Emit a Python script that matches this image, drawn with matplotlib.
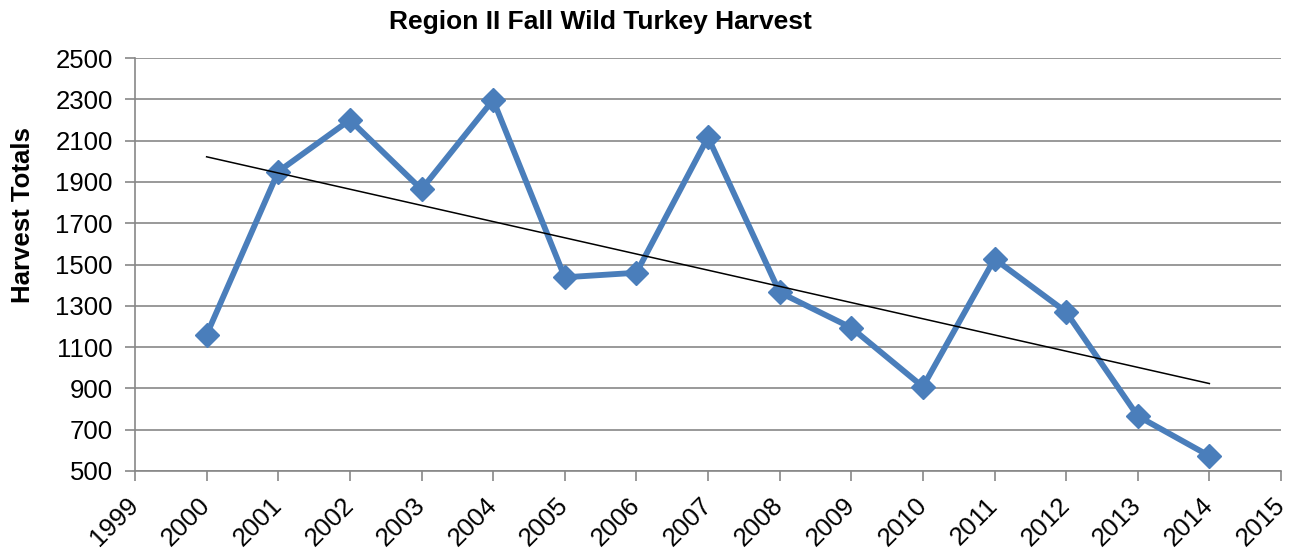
import numpy as np
import matplotlib
matplotlib.use('Agg')
import matplotlib.pyplot as plt

plt.rcParams['font.family'] = ['Liberation Sans', 'DejaVu Sans']

# Harvest totals
years = [2000, 2001, 2002, 2003, 2004, 2005, 2006, 2007,
         2008, 2009, 2010, 2011, 2012, 2013, 2014]
harvest = [1160, 1950, 2200, 1864, 2297, 1438, 1460, 2116,
           1365, 1194, 908, 1527, 1270, 766, 573]
y_ticks = list(range(500, 2501, 200))
x_ticks = list(range(1999, 2016))

grid_col = '#878787'
line_col = '#4a7ebb'

fig = plt.figure(figsize=(12.98, 5.5), dpi=100)
ax = fig.add_axes([135 / 1298, 1 - 471 / 550, (1281 - 135) / 1298, (471 - 58) / 550])

ax.plot(years, harvest, color=line_col, lw=4.2, marker='D', markersize=12,
        markeredgecolor=line_col, zorder=3)

# linear trend line over the data range
coef = np.polyfit(years, harvest, 1)
ax.plot([years[0], years[-1]], np.polyval(coef, [years[0], years[-1]]),
        color='black', lw=1.1, zorder=4)

ax.set_xlim(1999, 2015)
ax.set_ylim(500, 2500)
ax.set_xticks(x_ticks)
ax.set_yticks(y_ticks)
ax.set_xticklabels([str(y) for y in x_ticks], rotation=45, ha='right', va='center',
                   rotation_mode='anchor', fontsize=18.5)
ax.set_yticklabels([str(v) for v in y_ticks], fontsize=18.5)

ax.grid(axis='y', color=grid_col, lw=1.2)
ax.set_axisbelow(True)
for s in ['top', 'right']:
    ax.spines[s].set_visible(False)
for s in ['left', 'bottom']:
    ax.spines[s].set_color(grid_col)
    ax.spines[s].set_linewidth(1.2)
ax.tick_params(axis='both', direction='out', length=7, width=1.2, color=grid_col,
               labelcolor='black')
ax.tick_params(axis='x', pad=15)
ax.tick_params(axis='y', pad=9)

fig.text(23 / 1298, 1 - 215 / 550, 'Harvest Totals', rotation=90,
         ha='center', va='center', fontsize=18.5, fontweight='bold')
fig.text(600 / 1298, 1 - 29 / 550, 'Region II Fall Wild Turkey Harvest',
         ha='center', va='baseline', fontsize=19, fontweight='bold')

fig.savefig('out.png', dpi=100)
